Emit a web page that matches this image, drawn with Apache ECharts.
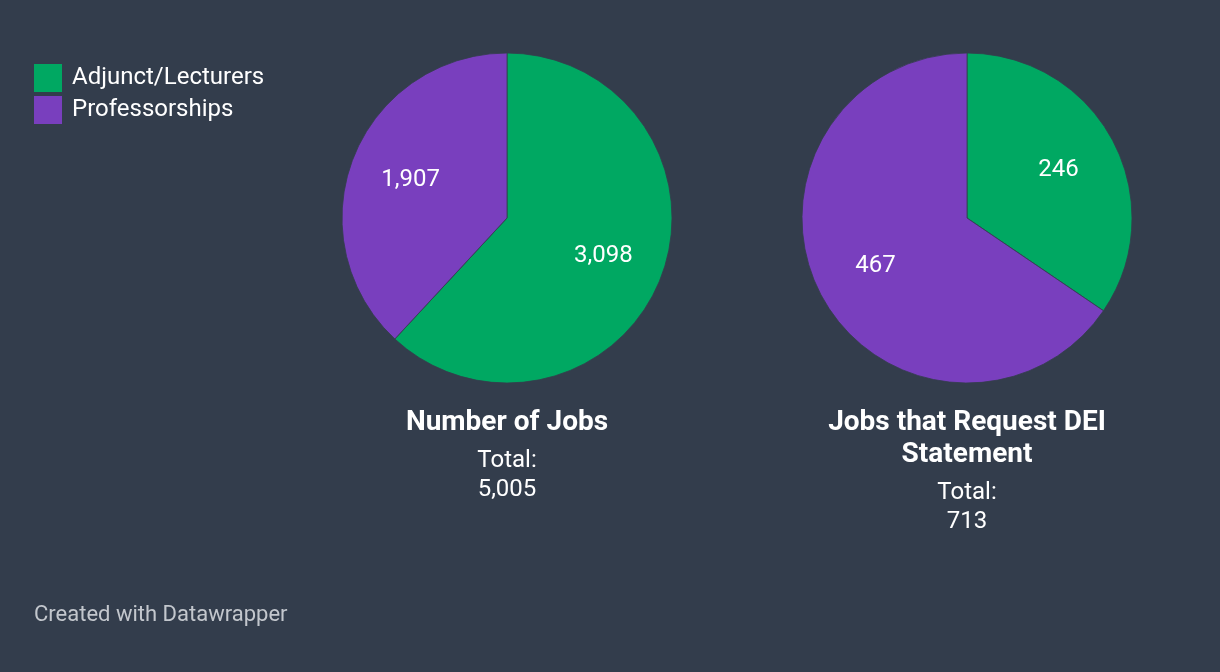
<!DOCTYPE html>
<html>
<head>
<meta charset="utf-8">
<script src="https://cdn.jsdelivr.net/npm/echarts@6/dist/echarts.min.js"></script>
<style>
  html, body { margin: 0; padding: 0; background: #333d4c; }
  #chart { width: 1220px; height: 672px; }
</style>
</head>
<body>
<div id="chart"></div>
<script>
// chart data
const categories = ['Adjunct/Lecturers', 'Professorships']
const jobsAll = [3098, 1907]
const jobsDei = [246, 467]
const pieTitles = ['Number of Jobs', 'Jobs that Request DEI\nStatement']
const colors = ['#00a862', '#793fbe']

const bg = '#333d4c'
const font = 'Roboto, "Noto Sans", sans-serif'

const fmt = v => v.toLocaleString('en-US')
const sum = arr => arr.reduce((a, b) => a + b, 0)

function pieData(values) {
  return values.map((v, i) => ({ name: categories[i], value: v }))
}

// base pie (drawn) + transparent overlay pie only used to place value labels further out
function pieSeries(values, cx) {
  return [{
    type: 'pie',
    center: [cx, 218],
    radius: 165,
    startAngle: 90,
    clockwise: true,
    animation: false,
    label: { show: false },
    labelLine: { show: false },
    emphasis: { disabled: true },
    itemStyle: { borderColor: bg, borderWidth: 0.8 },
    data: pieData(values)
  }, {
    type: 'pie',
    center: [cx, 218],
    radius: 201,
    startAngle: 90,
    clockwise: true,
    animation: false,
    silent: true,
    emphasis: { disabled: true },
    itemStyle: { color: 'transparent', borderWidth: 0 },
    label: {
      show: true,
      position: 'inside',
      color: '#ffffff',
      fontFamily: font,
      fontSize: 24,
      padding: [9, 0, 0, 0],
      formatter: p => fmt(p.value)
    },
    labelLine: { show: false },
    data: pieData(values)
  }]
}

function titleGraphics(title, total, cx) {
  const lines = title.split('\n').length
  const top = 407
  return [{
    type: 'text',
    x: cx,
    y: top,
    style: {
      text: title,
      fill: '#ffffff',
      font: 'bold 28px ' + font,
      lineHeight: 32,
      textAlign: 'center'
    }
  }, {
    type: 'text',
    x: cx,
    y: top + lines * 32 + 7,
    style: {
      text: 'Total:\n' + fmt(total),
      fill: '#ffffff',
      font: '24px ' + font,
      lineHeight: 29,
      textAlign: 'center'
    }
  }]
}

const chart = echarts.init(document.getElementById('chart'))

chart.setOption({
  backgroundColor: bg,
  color: colors,
  textStyle: { fontFamily: font },
  legend: {
    orient: 'vertical',
    left: 34,
    top: 64,
    padding: 0,
    icon: 'rect',
    itemWidth: 28,
    itemHeight: 28,
    itemGap: 4,
    selectedMode: false,
    itemStyle: { borderWidth: 0 },
    textStyle: { color: '#ffffff', fontSize: 24, padding: [6, 0, 0, 5] },
    data: categories
  },
  series: [].concat(pieSeries(jobsAll, 507), pieSeries(jobsDei, 967)),
  graphic: [].concat(
    titleGraphics(pieTitles[0], sum(jobsAll), 507),
    titleGraphics(pieTitles[1], sum(jobsDei), 967),
    [{
      type: 'text',
      x: 34,
      y: 604,
      style: {
        text: 'Created with Datawrapper',
        fill: '#c3c7cd',
        font: '22px ' + font
      }
    }]
  )
})
</script>
</body>
</html>
